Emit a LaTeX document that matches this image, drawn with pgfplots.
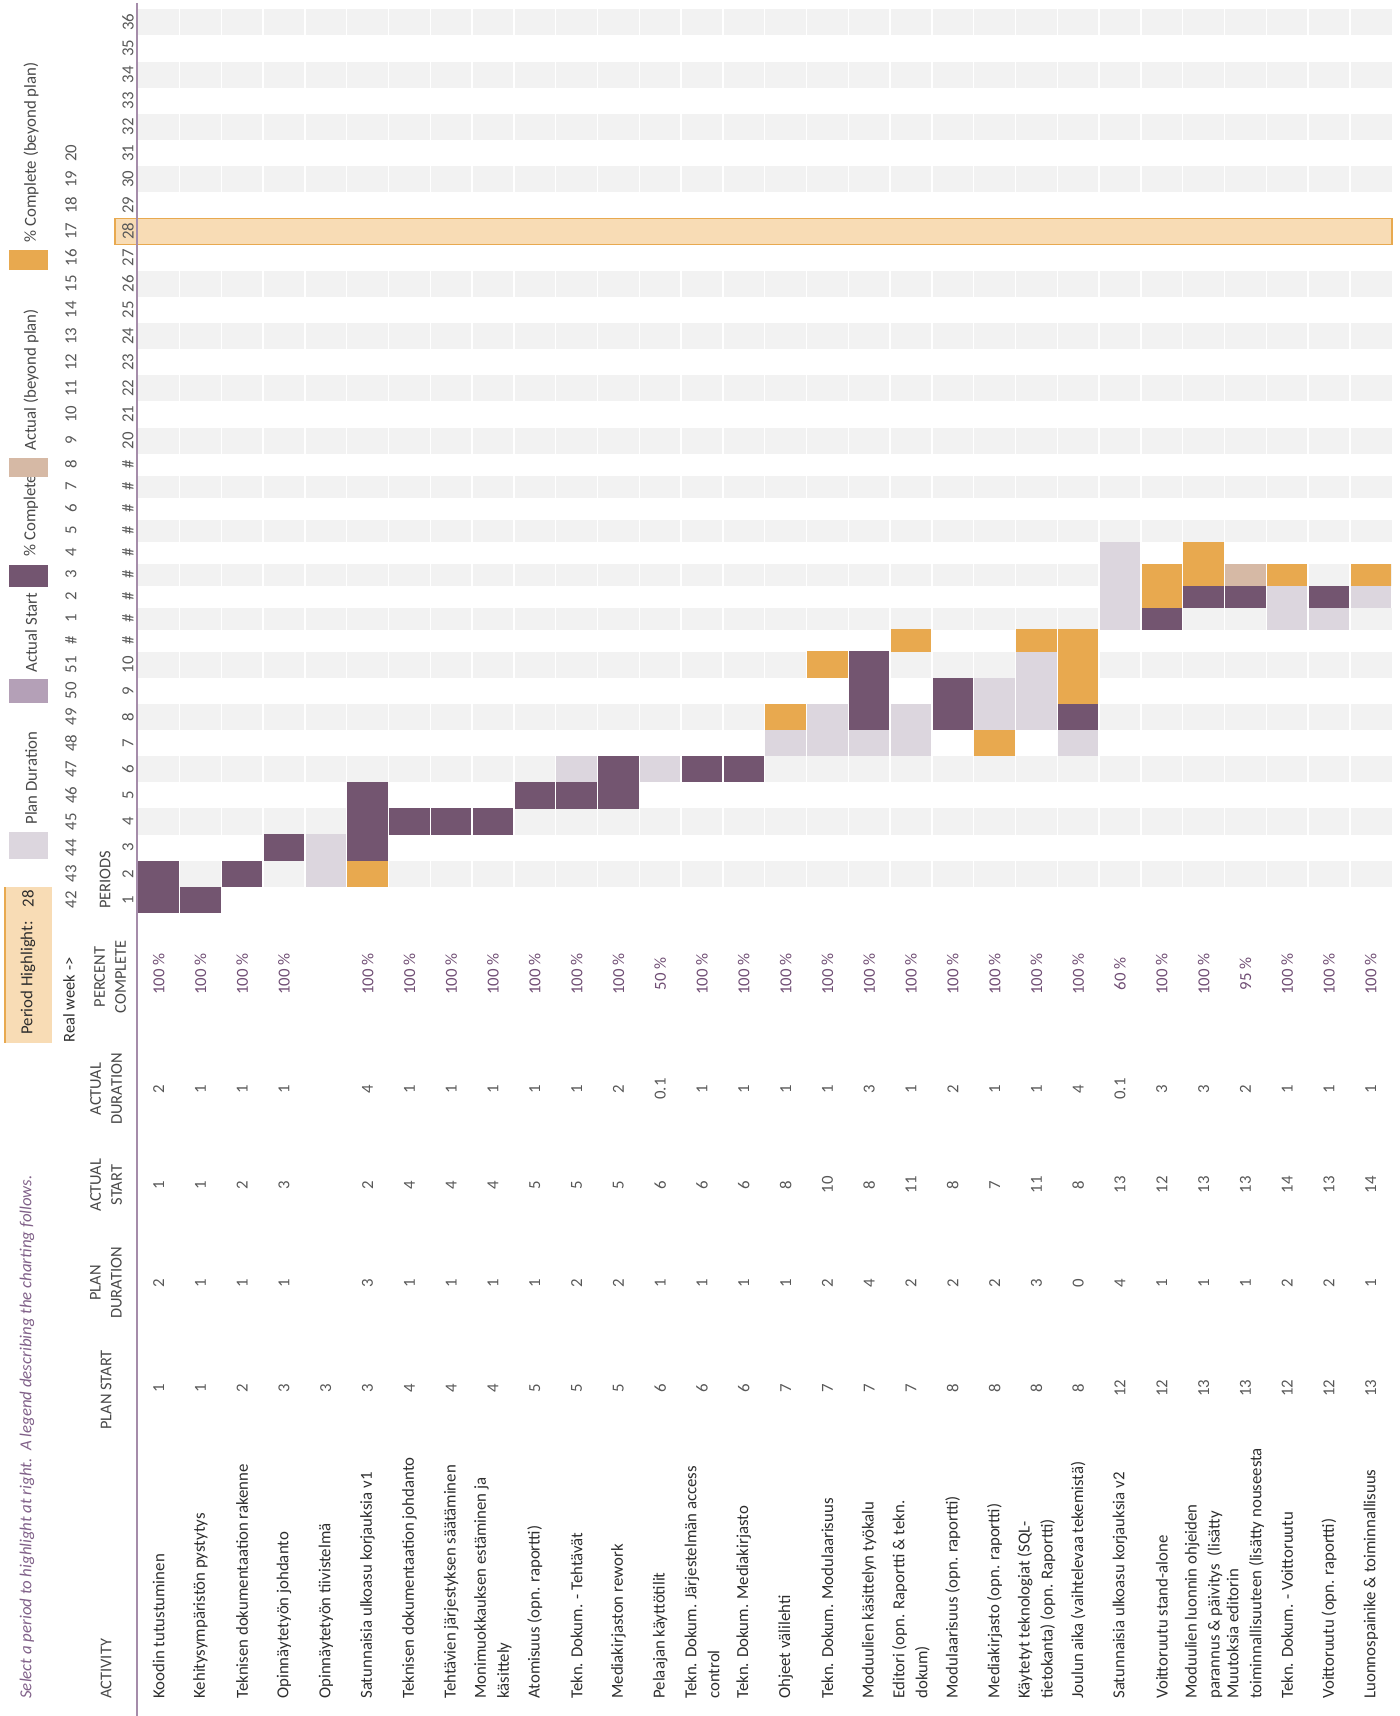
\documentclass[border=0pt]{standalone}
\usepackage{pgfplots}
\pgfplotsset{compat=1.18}
\usepackage{pgfplotstable}
\usepackage{fontspec}
\setmainfont{Carlito}

\definecolor{planc}{RGB}{220,214,222}
\definecolor{startc}{RGB}{180,160,183}
\definecolor{donec}{RGB}{115,85,112}
\definecolor{tanc}{RGB}{214,185,165}
\definecolor{overc}{RGB}{232,169,79}
\definecolor{stripec}{RGB}{242,242,242}
\definecolor{highc}{RGB}{248,220,181}
\definecolor{linec}{RGB}{165,140,170}
\definecolor{textc}{RGB}{45,45,45}
\definecolor{hdrc}{RGB}{72,72,72}
\definecolor{numc}{RGB}{88,88,88}
\definecolor{pctc}{RGB}{112,78,116}
\definecolor{titlec}{RGB}{128,96,136}

\newcommand\txt{\fontsize{8.4}{11.5}\selectfont}
\newcommand\hdr{\fontsize{8.2}{10.5}\selectfont}

% filled cells of the schedule: activity, period, class
% P = plan only, D = complete within plan, O = complete beyond plan, T = actual beyond plan
\pgfplotstableread{
act per cls
1 1 D
1 2 D
2 1 D
3 2 D
4 3 D
5 2 P
5 3 P
6 2 O
6 3 D
6 4 D
6 5 D
7 4 D
8 4 D
9 4 D
10 5 D
11 5 D
11 6 P
12 5 D
12 6 D
13 6 P
14 6 D
15 6 D
16 7 P
16 8 O
17 7 P
17 8 P
17 10 O
18 7 P
18 8 D
18 9 D
18 10 D
19 7 P
19 8 P
19 11 O
20 8 D
20 9 D
21 7 O
21 8 P
21 9 P
22 8 P
22 9 P
22 10 P
22 11 O
23 7 P
23 8 D
23 9 O
23 10 O
23 11 O
24 12 P
24 13 P
24 14 P
24 15 P
25 12 D
25 13 O
25 14 O
26 13 D
26 14 O
26 15 O
27 13 D
27 14 T
28 12 P
28 13 P
28 14 O
29 12 P
29 13 D
30 13 P
30 14 O
}\cells

% one schedule cell; periods 11-19 sit in narrower rows
\pgfdeclareplotmark{cell}{%
  \ifdim\cellper pt>10.5pt
    \ifdim\cellper pt<19.5pt \def\cellhh{5.55}\else\def\cellhh{6.6}\fi
  \else\def\cellhh{6.6}\fi
  \pgfpathrectanglecorners{\pgfpoint{-10.1pt}{-\cellhh pt}}{\pgfpoint{10.1pt}{\cellhh pt}}%
  \pgfusepathqfill}

\begin{document}
\begin{tikzpicture}
\useasboundingbox (-68.85pt,-401.5pt) rectangle (631.15pt,456.5pt);
\begin{axis}[
  at={(0pt,0pt)}, anchor=south west,
  x=20.9pt, y=13.07pt,
  xmin=0.5, xmax=30.5, ymin=0.5, ymax=36.5,
  hide axis, clip=false,
  y coord trafo/.code={\pgfmathparse{#1-0.1587*min(max(#1-10.5,0),9)}},
]
% banded period rows
\pgfplotsinvokeforeach{2,4,...,36}{
  \fill[stripec] (axis cs:0.5,#1-0.5) rectangle (axis cs:30.5,#1+0.5);
}
\pgfplotsinvokeforeach{1.5,2.5,...,29.5}{
  \draw[white, line width=0.7pt] (axis cs:#1,0.5) -- (axis cs:#1,36.5);
}
% schedule cells
\addplot[only marks, scatter, mark=cell,
  point meta=explicit symbolic,
  scatter/classes={
    P={mark=cell, planc},
    D={mark=cell, donec},
    O={mark=cell, overc},
    T={mark=cell, tanc}},
  visualization depends on={\thisrow{per} \as \cellper},
] table[x=act, y=per, meta=cls] {\cells};
% highlighted period
\draw[overc, fill=highc, line width=0.8pt] (axis cs:-0.045,27.5) rectangle (axis cs:30.5,28.5);
% period numbers
\pgfplotsinvokeforeach{1,...,10,20,21,...,36}{
  \node[font=\txt, text=numc, rotate=90, inner sep=0pt] at (axis cs:0.268,#1) {#1};
}
\pgfplotsinvokeforeach{11,...,19}{
  \node[font=\txt, text=numc, rotate=90, inner sep=0pt] at (axis cs:0.268,#1) {\#};
}
% calendar weeks
\pgfplotsinvokeforeach{1,...,10}{
  \node[font=\txt, text=numc, rotate=90, inner sep=0pt] at (axis cs:-1.096,#1) {\pgfmathtruncatemacro\wk{#1+41}\wk};
}
\node[font=\txt, text=numc, rotate=90, inner sep=0pt] at (axis cs:-1.096,11) {\#};
\pgfplotsinvokeforeach{12,...,31}{
  \node[font=\txt, text=numc, rotate=90, inner sep=0pt] at (axis cs:-1.096,#1) {\pgfmathtruncatemacro\wk{#1-11}\wk};
}
\end{axis}

\begin{scope}[x=0.5pt, y=-0.5pt, shift={(-68.85pt,456.5pt)}]
  \draw[linec, line width=1pt] (136.5,3) -- (136.5,1716);
  % intro line
  \node[rotate=90, anchor=west, inner sep=0pt, font=\txt\itshape, text=titlec] at (27,1699)
    {Select a period to highlight at right.\ \ A legend describing the charting follows.};
  % highlight selector
  \fill[highc] (4,887) rectangle (52,1043);
  \fill[overc] (4,887) rectangle (6.5,1043);
  \node[rotate=90, anchor=west, inner sep=0pt, font=\txt, text=textc] at (28,1035) {Period Highlight:};
  \node[rotate=90, inner sep=0pt, font=\txt, text=textc] at (28,899) {28};
  % legend
  \fill[planc] (9,832) rectangle (48,859);
  \node[rotate=90, anchor=west, inner sep=0pt, font=\txt, text=hdrc] at (31,825) {Plan Duration};
  \fill[startc] (9,679) rectangle (48,703);
  \node[rotate=90, anchor=west, inner sep=0pt, font=\txt, text=hdrc] at (31,673) {Actual Start};
  \fill[donec] (9,565) rectangle (48,587);
  \node[rotate=90, anchor=west, inner sep=0pt, font=\txt, text=hdrc] at (31,557) {\% Complete};
  \fill[tanc] (9,458) rectangle (48,477);
  \node[rotate=90, anchor=west, inner sep=0pt, font=\txt, text=hdrc] at (31,451) {Actual (beyond plan)};
  \fill[overc] (9,250) rectangle (48,270);
  \node[rotate=90, anchor=west, inner sep=0pt, font=\txt, text=hdrc] at (31,243) {\% Complete (beyond plan)};
  % column headers
  \node[rotate=90, anchor=west, inner sep=0pt, font=\hdr, text=hdrc] at (106,1699) {ACTIVITY};
  \node[rotate=90, inner sep=0pt, font=\hdr, text=hdrc, align=center] at (106,1390) {PLAN START};
  \node[rotate=90, inner sep=0pt, font=\hdr, text=hdrc, align=center] at (106,1283) {PLAN\\DURATION};
  \node[rotate=90, inner sep=0pt, font=\hdr, text=hdrc, align=center] at (106,1185) {ACTUAL\\START};
  \node[rotate=90, inner sep=0pt, font=\hdr, text=hdrc, align=center] at (106,1089) {ACTUAL\\DURATION};
  \node[rotate=90, inner sep=0pt, font=\hdr, text=hdrc, align=center] at (110,977) {PERCENT\\COMPLETE};
  \node[rotate=90, inner sep=0pt, font=\hdr, text=hdrc] at (105,880) {PERIODS};
  \node[rotate=90, inner sep=0pt, font=\hdr, text=textc] at (69,1000) {Real week ->};
  % activities
  \foreach \t [count=\i] in {
    {Koodin tutustuminen},
    {Kehitysympäristön pystytys},
    {Teknisen dokumentaation rakenne},
    {Opinnäytetyön johdanto},
    {Opinnäytetyön tiivistelmä},
    {Satunnaisia ulkoasu korjauksia v1},
    {Teknisen dokumentaation johdanto},
    {Tehtävien järjestyksen säätäminen},
    {Monimuokkauksen estäminen ja\\käsittely},
    {Atomisuus (opn. raportti)},
    {Tekn. Dokum. - Tehtävät},
    {Mediakirjaston rework},
    {Pelaajan käyttötilit},
    {Tekn. Dokum. Järjestelmän access\\control},
    {Tekn. Dokum. Mediakirjasto},
    {Ohjeet välilehti},
    {Tekn. Dokum. Modulaarisuus},
    {Moduulien käsittelyn työkalu},
    {Editori (opn. Raportti \& tekn.\\dokum)},
    {Modulaarisuus (opn. raportti)},
    {Mediakirjasto (opn. raportti)},
    {Käytetyt teknologiat (SQL-\\tietokanta) (opn. Raportti)},
    {Joulun aika (vaihtelevaa tekemistä)},
    {Satunnaisia ulkoasu korjauksia v2},
    {Voittoruutu stand-alone},
    {Moduulien luonnin ohjeiden\\parannus \& päivitys\ \ (lisätty},
    {Muutoksia editorin\\toiminnallisuuteen (lisätty nouseesta},
    {Tekn. Dokum. - Voittoruutu},
    {Voittoruutu (opn. raportti)},
    {Luonnospainike \& toiminnallisuus}}
    \node[rotate=90, anchor=west, inner sep=0pt, align=left, font=\txt, text=textc]
      at ({137.7+(\i-0.5)*41.8},1699) {\t};
  % plan start
  \foreach \v [count=\i] in {1,1,2,3,3,3,4,4,4,5,5,5,6,6,6,7,7,7,7,8,8,8,8,12,12,13,13,12,12,13}
    \node[rotate=90, inner sep=0pt, font=\txt, text=numc] at ({137.7+(\i-0.5)*41.8},1388) {\v};
  % plan duration
  \foreach \v [count=\i] in {2,1,1,1,{},3,1,1,1,1,2,2,1,1,1,1,2,4,2,2,2,3,0,4,1,1,1,2,2,1}
    \node[rotate=90, inner sep=0pt, font=\txt, text=numc] at ({137.7+(\i-0.5)*41.8},1283) {\v};
  % actual start
  \foreach \v [count=\i] in {1,1,2,3,{},2,4,4,4,5,5,5,6,6,6,8,10,8,11,8,7,11,8,13,12,13,13,14,13,14}
    \node[rotate=90, inner sep=0pt, font=\txt, text=numc] at ({137.7+(\i-0.5)*41.8},1185) {\v};
  % actual duration
  \foreach \v [count=\i] in {2,1,1,1,{},4,1,1,1,1,1,2,0.1,1,1,1,1,3,1,2,1,1,4,0.1,3,3,2,1,1,1}
    \node[rotate=90, inner sep=0pt, font=\txt, text=numc] at ({137.7+(\i-0.5)*41.8},1089) {\v};
  % percent complete
  \foreach \v [count=\i] in {100,100,100,100,{},100,100,100,100,100,100,100,50,100,100,100,100,100,100,100,100,100,100,60,100,100,95,100,100,100}
    \node[rotate=90, inner sep=0pt, font=\txt, text=pctc] at ({137.7+(\i-0.5)*41.8},974) {\ifx\v\empty\else\v\ \%\fi};
\end{scope}
\end{tikzpicture}
\end{document}
